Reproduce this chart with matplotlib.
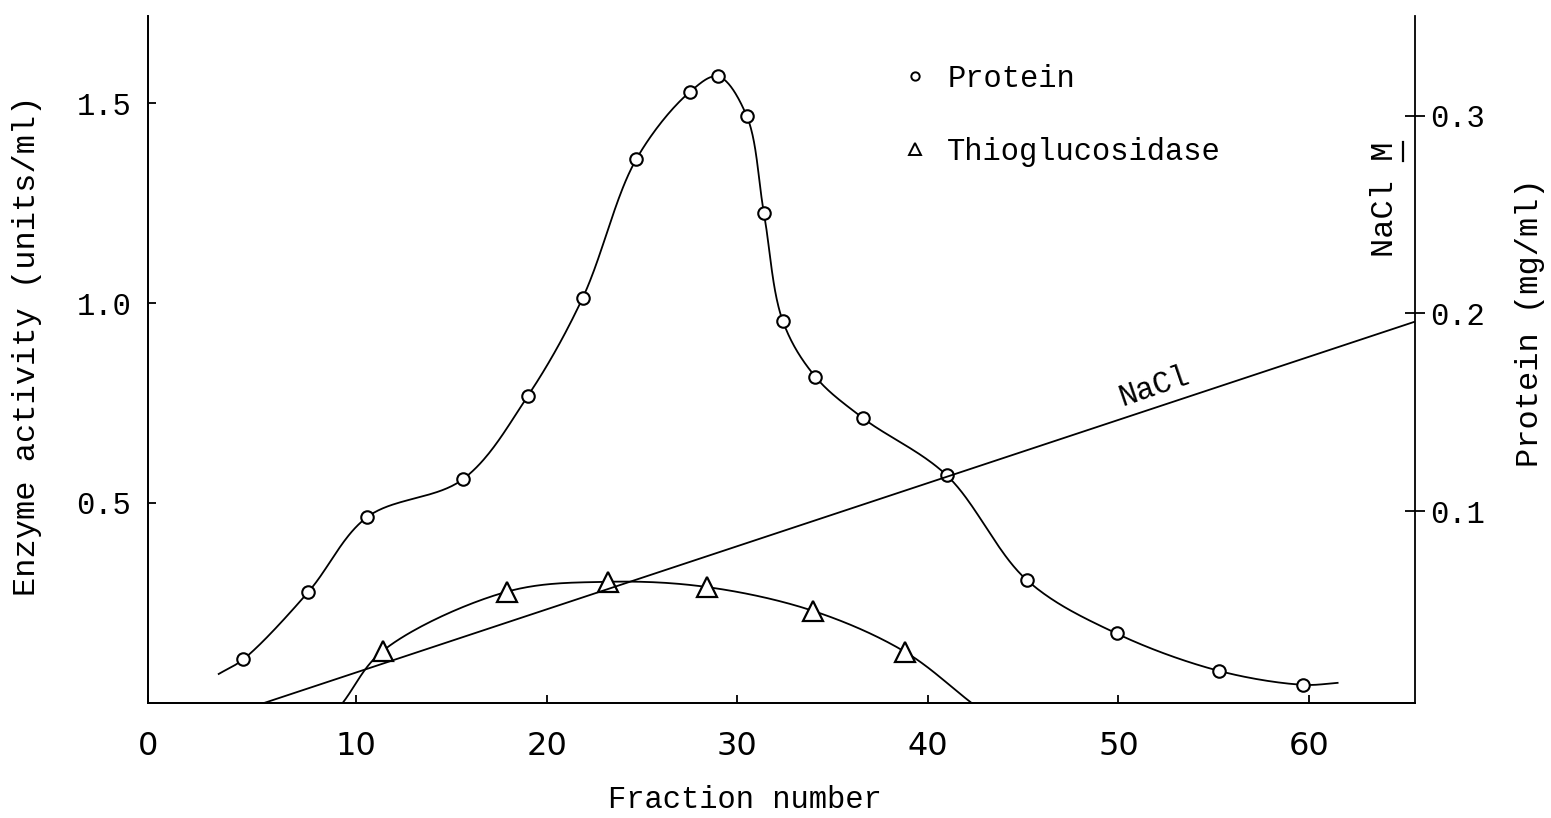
import matplotlib.pyplot as plt
from matplotlib.lines import Line2D
import numpy as np

# Elution profile
protein_fraction = [4.1, 7.5, 10.6, 15.6, 19.0, 21.9, 24.7, 27.5, 29.0, 30.5, 31.4,
                    32.4, 34.1, 36.6, 41.0, 45.2, 49.9, 55.3, 59.7]
protein_mg = [0.025, 0.059, 0.097, 0.116, 0.158, 0.208, 0.278, 0.312, 0.320, 0.300, 0.251,
              0.196, 0.168, 0.147, 0.118, 0.065, 0.038, 0.019, 0.012]
# where the hand-drawn protein curve starts / stops
protein_curve_x = [2.8, 61.5]
protein_curve_y = [0.0175, 0.013]

thio_fraction = [11.4, 17.9, 23.2, 28.4, 34.0, 38.8]
thio_units = [0.13, 0.278, 0.303, 0.29, 0.23, 0.128]
thio_curve_x = [9.3, 42.3]
thio_curve_y = [0.0, 0.0]

nacl_fraction = [4.3, 65.6]
nacl_molar = [0.0, 0.196]

x_ticks = [10, 20, 30, 40, 50, 60]
left_ticks = [0.5, 1.0, 1.5]
right_ticks = [0.1, 0.2, 0.3]

MONO = 'Liberation Mono'
W, H = 1551, 818


def smooth_curve(xs, ys, sx, sy, n=40):
    # centripetal Catmull-Rom through the points, done in pixel-like space
    P = np.column_stack([np.asarray(xs) * sx, np.asarray(ys) * sy])
    P = np.vstack([2 * P[0] - P[1], P, 2 * P[-1] - P[-2]])
    out = []
    for i in range(1, len(P) - 2):
        p0, p1, p2, p3 = P[i - 1], P[i], P[i + 1], P[i + 2]
        t0 = 0.0
        t1 = t0 + np.linalg.norm(p1 - p0) ** 0.5
        t2 = t1 + np.linalg.norm(p2 - p1) ** 0.5
        t3 = t2 + np.linalg.norm(p3 - p2) ** 0.5
        t = np.linspace(t1, t2, n)[:, None]
        a1 = (t1 - t) / (t1 - t0) * p0 + (t - t0) / (t1 - t0) * p1
        a2 = (t2 - t) / (t2 - t1) * p1 + (t - t1) / (t2 - t1) * p2
        a3 = (t3 - t) / (t3 - t2) * p2 + (t - t2) / (t3 - t2) * p3
        b1 = (t2 - t) / (t2 - t0) * a1 + (t - t0) / (t2 - t0) * a2
        b2 = (t3 - t) / (t3 - t1) * a2 + (t - t1) / (t3 - t1) * a3
        c = (t2 - t) / (t2 - t1) * b1 + (t - t1) / (t2 - t1) * b2
        out.append(c)
    out = np.vstack(out)
    return out[:, 0] / sx, out[:, 1] / sy


fig = plt.figure(figsize=(W / 100, H / 100), dpi=100)
ax = fig.add_axes([148 / W, 115 / H, 1267 / W, 687 / H])
ax2 = ax.twinx()

xlim = (-0.91, 65.56)
ylim_left = (0, 1.7175)
ylim_right = (0.0028, 0.3506)
ax.set_xlim(xlim)
ax.set_ylim(ylim_left)
ax2.set_ylim(ylim_right)

# px per data unit, for the spline
sx = 1267 / (xlim[1] - xlim[0])
sy_left = 687 / (ylim_left[1] - ylim_left[0])
sy_right = 687 / (ylim_right[1] - ylim_right[0])

lw = 1.3
# Protein (right axis)
px = [protein_curve_x[0]] + protein_fraction + [protein_curve_x[1]]
py = [protein_curve_y[0]] + protein_mg + [protein_curve_y[1]]
cx, cy = smooth_curve(px, py, sx, sy_right)
ax2.plot(cx, cy, color='black', lw=lw)
ax2.plot(protein_fraction, protein_mg, 'o', ms=9, mfc='white', mec='black', mew=1.5)

# Thioglucosidase (left axis)
tx = [thio_curve_x[0]] + thio_fraction + [thio_curve_x[1]]
ty = [thio_curve_y[0]] + thio_units + [thio_curve_y[1]]
cx, cy = smooth_curve(tx, ty, sx, sy_left)
ax.plot(cx, cy, color='black', lw=lw)
ax.plot(thio_fraction, thio_units, '^', ms=14, mfc='white', mec='black', mew=1.6)

# NaCl gradient (right axis)
ax2.plot(nacl_fraction, nacl_molar, color='black', lw=lw)
ax2.text(51.9, 0.163, 'NaCl', family=MONO, fontsize=22, rotation=19,
         ha='center', va='center', rotation_mode='anchor')

# axes / spines
for a in (ax, ax2):
    a.spines['top'].set_visible(False)
    for s in a.spines.values():
        s.set_linewidth(1.3)
ax.spines['right'].set_visible(False)

ax.set_xticks([xlim[0]] + x_ticks)
ax.set_xticklabels(['0'] + [str(v) for v in x_ticks], fontsize=23, family='DejaVu Sans')
ax.tick_params(axis='x', direction='in', length=6, width=1.3, pad=20)

ax.set_yticks(left_ticks)
ax.set_yticklabels([f'{v:.1f}' for v in left_ticks], fontsize=22, family=MONO)
ax.tick_params(axis='y', direction='in', length=6, width=1.3, pad=12)

ax2.set_yticks(right_ticks)
ax2.set_yticklabels([f'{v:.1f}' for v in right_ticks], fontsize=22, family=MONO)
ax2.tick_params(axis='y', direction='inout', length=14, width=1.3, pad=4)

ax.set_xlabel('Fraction number', family=MONO, fontsize=22, va='center')
ax.xaxis.set_label_coords(0.471, -0.141)
ax.set_ylabel('Enzyme activity (units/ml)', family=MONO, fontsize=23, va='center')
ax.yaxis.set_label_coords(-0.0955, 0.52)
ax2.set_ylabel('Protein (mg/ml)', family=MONO, fontsize=23, va='center')
ax2.yaxis.set_label_coords(1.0907, 0.553)

# "NaCl M" with the M underlined (underline sits on the right once rotated)
nacl_lbl = ax2.text(0.976, 0.733, 'NaCl M', transform=ax2.transAxes,
                    family=MONO, fontsize=23, rotation=90, ha='center', va='center')
fig.canvas.draw()
bb = nacl_lbl.get_window_extent()
char = (bb.y1 - bb.y0) / 6
ux = bb.x1 + 3
fig.add_artist(Line2D([ux / W, ux / W], [(bb.y1 - char) / H, bb.y1 / H],
                      color='black', lw=1.6))

# legend
handles = [
    Line2D([], [], ls='none', marker='o', ms=6, mfc='white', mec='black', mew=1.4),
    Line2D([], [], ls='none', marker='^', ms=9, mfc='white', mec='black', mew=1.4),
]
ax.legend(handles, ['Protein', 'Thioglucosidase'], loc='upper left',
          bbox_to_anchor=((900 - 148) / 1267, (703 - 64) / 687),
          frameon=False, prop={'family': MONO, 'size': 22},
          handlelength=1.0, handletextpad=0.55, labelspacing=1.4,
          borderpad=0, borderaxespad=0)

plt.savefig('out.png', dpi=100)
